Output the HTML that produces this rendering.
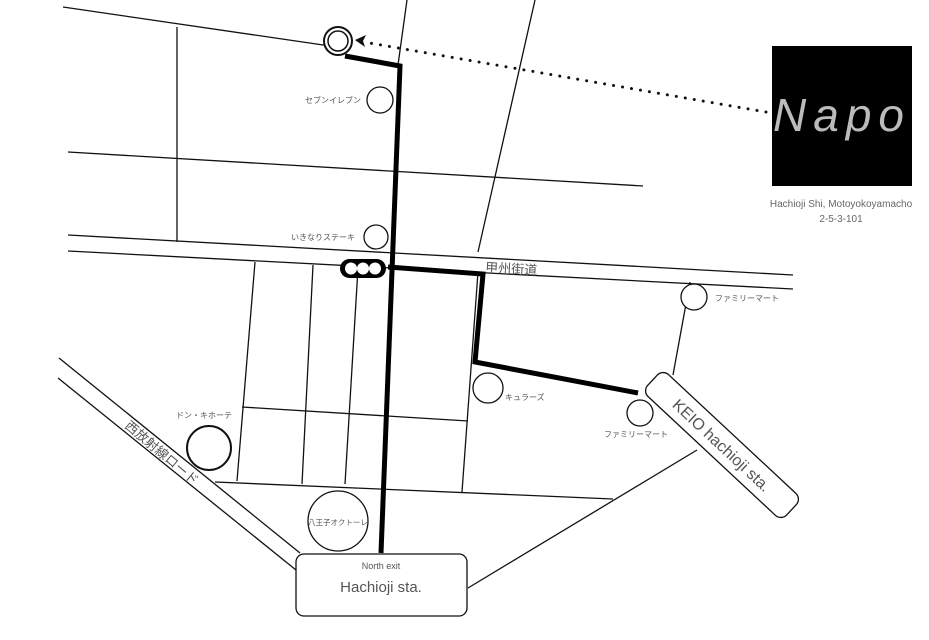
<!DOCTYPE html>
<html><head><meta charset="utf-8"><style>
html,body{margin:0;padding:0;background:#fff;width:929px;height:640px;overflow:hidden}
svg{display:block}
text{font-family:"Liberation Sans","Noto Sans CJK JP",sans-serif;fill:#555}
</style></head><body>
<svg width="929" height="640" viewBox="0 0 929 640" xmlns="http://www.w3.org/2000/svg">
<g stroke="#111" stroke-width="1.3" fill="none">
<line x1="63" y1="7" x2="330" y2="46"/>
<line x1="177" y1="27" x2="177" y2="242"/>
<line x1="407" y1="0" x2="398" y2="65"/>
<line x1="535" y1="0" x2="478" y2="252"/>
<line x1="68" y1="152" x2="643" y2="186"/>
<line x1="68" y1="235" x2="793" y2="275"/>
<line x1="68" y1="251" x2="793" y2="289"/>
<line x1="255" y1="262" x2="237" y2="481"/>
<line x1="313" y1="265" x2="302" y2="484"/>
<line x1="358" y1="268" x2="345" y2="484"/>
<line x1="478" y1="272" x2="462" y2="492"/>
<line x1="690" y1="282" x2="673" y2="375"/>
<line x1="242" y1="407" x2="468" y2="421"/>
<line x1="215" y1="482" x2="613" y2="499"/>
<line x1="468" y1="588" x2="697" y2="450"/>
<line x1="59" y1="358" x2="300" y2="553"/>
<line x1="58" y1="378" x2="296" y2="570"/>
</g>
<!-- dotted arrow -->
<line x1="766" y1="112" x2="364" y2="42" stroke="#111" stroke-width="3" stroke-dasharray="0.1 9" stroke-linecap="round"/>
<path d="M355 40 L366 35 L363 41 L365 47 Z" fill="#111"/>
<!-- route -->
<g stroke="#000" stroke-width="5" fill="none" stroke-linejoin="miter">
<polyline points="345,56 400,66 381,553"/>
<polyline points="388,267 483,274 475,362 638,393"/>
</g>
<!-- circles -->
<g stroke="#111" stroke-width="1.3" fill="#fff">
<circle cx="338" cy="41" r="14" stroke-width="2"/>
<circle cx="338" cy="41" r="10" stroke-width="1.5"/>
<circle cx="380" cy="100" r="13"/>
<circle cx="376" cy="237" r="12"/>
<circle cx="694" cy="297" r="13"/>
<circle cx="488" cy="388" r="15"/>
<circle cx="640" cy="413" r="13"/>
<circle cx="209" cy="448" r="22" stroke-width="2"/>
<circle cx="338" cy="521" r="30"/>
</g>
<!-- traffic light -->
<rect x="340" y="259" width="46" height="19" rx="9.5" fill="#000"/>
<circle cx="351" cy="268.5" r="6" fill="#fff"/>
<circle cx="363" cy="268.5" r="6" fill="#fff"/>
<circle cx="375" cy="268.5" r="6" fill="#fff"/>
<!-- labels -->
<g font-size="8">
<text x="305" y="103">セブンイレブン</text>
<text x="291" y="240">いきなりステーキ</text>
<text x="715" y="301">ファミリーマート</text>
<text x="505" y="400">キュラーズ</text>
<text x="604" y="437">ファミリーマート</text>
<text x="176" y="418">ドン・キホーテ</text>
<text x="308" y="525" font-size="7.5">八王子オクトーレ</text>
</g>
<text x="485" y="272" font-size="13" transform="rotate(3 485 272)">甲州街道</text>
<text x="124" y="427" font-size="13" transform="rotate(40 124 427)">西放射線ロード</text>
<!-- Hachioji box -->
<rect x="296" y="554" width="171" height="62" rx="8" fill="#fff" stroke="#111" stroke-width="1.3"/>
<text x="381" y="569" font-size="9" text-anchor="middle">North exit</text>
<text x="381" y="592" font-size="15" text-anchor="middle">Hachioji sta.</text>
<!-- KEIO box -->
<g transform="translate(722 445) rotate(43)">
<rect x="-95" y="-15" width="190" height="30" rx="8" fill="#fff" stroke="#111" stroke-width="1.3"/>
<text x="0" y="6" font-size="16" text-anchor="middle">KEIO hachioji sta.</text>
</g>
<!-- Napo -->
<rect x="772" y="46" width="140" height="140" fill="#000"/>
<text x="842" y="131" font-size="46" font-style="italic" text-anchor="middle" style="fill:#bbb" letter-spacing="7">Napo</text>
<text x="841" y="207" font-size="10" text-anchor="middle" style="fill:#666">Hachioji Shi, Motoyokoyamacho</text>
<text x="841" y="222" font-size="10" text-anchor="middle" style="fill:#666">2-5-3-101</text>
</svg>
</body></html>
